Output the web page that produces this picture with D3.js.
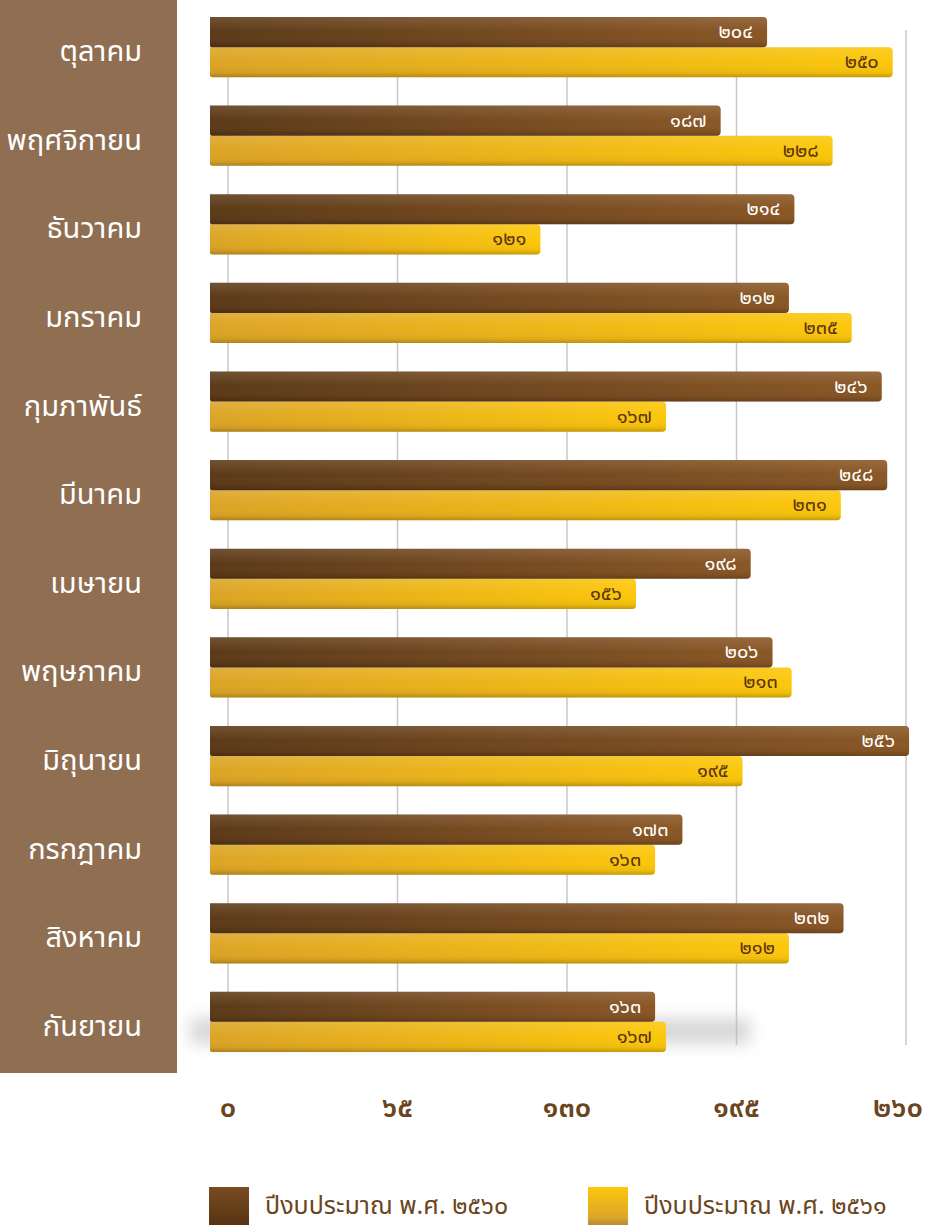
<!DOCTYPE html>
<html lang="th">
<head>
  <meta charset="UTF-8">
  <script src="https://d3js.org/d3.v7.min.js"></script>
  <style>
    body { margin: 0; background: #fff; font-family: 'Noto Sans Thai', 'Noto Sans', sans-serif; }
    text.month { fill: #fff; font-size: 29px; }
    text.tick { fill: #6b4520; font-size: 29px; font-weight: 600; }
    text.val { font-size: 20px; }
    text.legend { fill: #6b4520; font-size: 25px; }
    line.grid { stroke: #c8c8c8; stroke-width: 1.5; }
  </style>
</head>
<body>
<script>
  // data
  const months = ["ตุลาคม", "พฤศจิกายน", "ธันวาคม", "มกราคม", "กุมภาพันธ์", "มีนาคม",
    "เมษายน", "พฤษภาคม", "มิถุนายน", "กรกฎาคม", "สิงหาคม", "กันยายน"];
  const series = ["ปีงบประมาณ พ.ศ. ๒๕๖๐", "ปีงบประมาณ พ.ศ. ๒๕๖๑"];
  const values2560 = [204, 187, 214, 212, 246, 248, 198, 206, 256, 173, 232, 163];
  const values2561 = [250, 228, 121, 235, 167, 231, 156, 213, 195, 163, 212, 167];
  const ticks = [0, 65, 130, 195, 260];

  const thaiDigits = "๐๑๒๓๔๕๖๗๘๙";
  const toThai = n => String(n).replace(/[0-9]/g, d => thaiDigits[+d]);

  const W = 934, H = 1225;
  const svg = d3.select("body").append("svg").attr("width", W).attr("height", H);
  const defs = svg.append("defs");

  // gradients
  const gBrown = defs.append("linearGradient").attr("id", "brownH").attr("x1", 0).attr("x2", 1);
  gBrown.append("stop").attr("offset", 0).attr("stop-color", "#5c3a18");
  gBrown.append("stop").attr("offset", 1).attr("stop-color", "#8a5726");
  const gGold = defs.append("linearGradient").attr("id", "goldH").attr("x1", 0).attr("x2", 1);
  gGold.append("stop").attr("offset", 0).attr("stop-color", "#dca426");
  gGold.append("stop").attr("offset", 1).attr("stop-color", "#fcc70a");
  const gShade = defs.append("linearGradient").attr("id", "shadeV").attr("x1", 0).attr("x2", 0).attr("y1", 0).attr("y2", 1);
  gShade.append("stop").attr("offset", 0).attr("stop-color", "#fff").attr("stop-opacity", 0.12);
  gShade.append("stop").attr("offset", 0.5).attr("stop-color", "#fff").attr("stop-opacity", 0);
  gShade.append("stop").attr("offset", 0.85).attr("stop-color", "#000").attr("stop-opacity", 0.05);
  gShade.append("stop").attr("offset", 1).attr("stop-color", "#000").attr("stop-opacity", 0.22);
  const gLegB = defs.append("linearGradient").attr("id", "legB").attr("x1", 0).attr("x2", 0).attr("y1", 0).attr("y2", 1);
  gLegB.append("stop").attr("offset", 0).attr("stop-color", "#7a4c20");
  gLegB.append("stop").attr("offset", 1).attr("stop-color", "#573414");
  const gLegG = defs.append("linearGradient").attr("id", "legG").attr("x1", 0).attr("x2", 0).attr("y1", 0).attr("y2", 1);
  gLegG.append("stop").attr("offset", 0).attr("stop-color", "#fdc70d");
  gLegG.append("stop").attr("offset", 0.8).attr("stop-color", "#dba628");
  gLegG.append("stop").attr("offset", 1).attr("stop-color", "#b98a35");
  const blur = defs.append("filter").attr("id", "blur").attr("x", -0.2).attr("y", -1).attr("width", 1.4).attr("height", 3);
  blur.append("feGaussianBlur").attr("stdDeviation", 8);

  // scales
  const y = d3.scaleBand().domain(months).range([17, 1052]).paddingInner(0.32);
  const ySeries = d3.scaleBand().domain([0, 1]).range([0, y.bandwidth()]);
  const xBar = d3.scaleLinear().domain([0, 260]).range([210, 920]);
  const xAxis = d3.scaleLinear().domain([0, 260]).range([228, 906]);

  // left panel
  svg.append("rect").attr("x", 0).attr("y", 0).attr("width", 177).attr("height", 1073).attr("fill", "#8f6e52");

  // gridlines
  svg.selectAll("line.grid").data(ticks).join("line")
    .attr("class", "grid")
    .attr("x1", d => xAxis(d)).attr("x2", d => xAxis(d))
    .attr("y1", 30).attr("y2", 1045);

  // soft shadow under the chart bottom
  svg.append("rect").attr("x", 190).attr("y", 1018).attr("width", 560).attr("height", 26)
    .attr("fill", "#bdbdbd").attr("opacity", 0.6).attr("filter", "url(#blur)");

  const rows = months.map((m, i) => ({ month: m, vals: [values2560[i], values2561[i]] }));

  const row = svg.selectAll("g.row").data(rows).join("g")
    .attr("class", "row")
    .attr("transform", d => `translate(0,${y(d.month)})`);

  const barPath = (x0, x1, h, r) =>
    `M${x0},0H${x1 - r}Q${x1},0 ${x1},${r}V${h - r}Q${x1},${h} ${x1 - r},${h}H${x0 + 2}Q${x0},${h} ${x0},${h - 2}Z`;

  [1, 0].forEach(s => {
    const h = ySeries.bandwidth();
    const g = row.append("g").attr("transform", `translate(0,${ySeries(s)})`);
    g.append("path")
      .attr("d", d => barPath(xBar(0), xBar(d.vals[s]), h, 4))
      .attr("fill", s === 0 ? "url(#brownH)" : "url(#goldH)");
    g.append("path")
      .attr("d", d => barPath(xBar(0), xBar(d.vals[s]), h, 4))
      .attr("fill", "url(#shadeV)");
    g.append("text")
      .attr("class", "val")
      .attr("x", d => xBar(d.vals[s]) - 14)
      .attr("y", h / 2 + 6)
      .attr("text-anchor", "end")
      .attr("fill", s === 0 ? "#ffffff" : "#5a3510")
      .text(d => toThai(d.vals[s]));
  });

  // month labels
  svg.selectAll("text.month").data(months).join("text")
    .attr("class", "month")
    .attr("x", 142)
    .attr("y", d => y(d) + y.bandwidth() / 2 + 14)
    .attr("text-anchor", "end")
    .text(d => d);

  // x-axis tick labels
  svg.selectAll("text.tick").data(ticks).join("text")
    .attr("class", "tick")
    .attr("x", (d, i) => xAxis(d) - (i === ticks.length - 1 ? 8 : 0))
    .attr("y", 1117)
    .attr("text-anchor", "middle")
    .text(d => toThai(d));

  // legend
  const legX = [209, 588];
  const leg = svg.selectAll("g.leg").data(series).join("g")
    .attr("class", "leg")
    .attr("transform", (d, i) => `translate(${legX[i]},1187)`);
  leg.append("rect").attr("width", 40).attr("height", 38)
    .attr("fill", (d, i) => i === 0 ? "url(#legB)" : "url(#legG)");
  leg.append("text").attr("class", "legend")
    .attr("x", 56).attr("y", 27)
    .text(d => d);
</script>
</body>
</html>
